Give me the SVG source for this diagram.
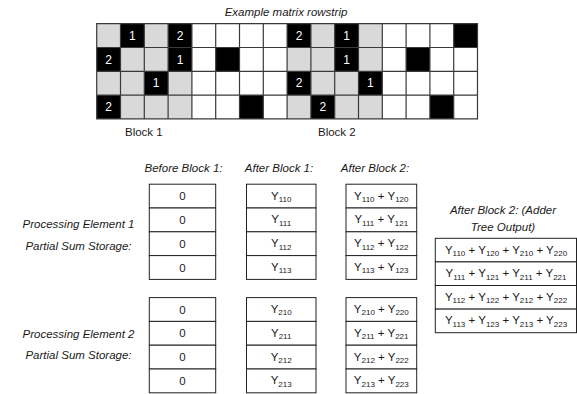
<svg xmlns="http://www.w3.org/2000/svg" width="577" height="394" viewBox="0 0 577 394">
<style>
text{font-family:"Liberation Sans",Arial,sans-serif;font-size:11.5px;fill:#1a1a1a}
.it{font-style:italic}
.num{fill:#fff;font-size:12px;text-anchor:middle}
.c{text-anchor:middle}
.sub{font-size:8px}
.g{fill:#d9d9d9}
.b{fill:#000}
.cell{fill:#fff;stroke:#222;stroke-width:1}
.grid{fill:none;stroke:#3a3a3a;stroke-width:1.2}
</style>
<rect width="577" height="394" fill="#fff"/>
<text class="it c" x="286" y="16" font-size="13">Example matrix rowstrip</text>

<g id="matrix" transform="translate(96.7,23.7)">
  <rect class="g" x="0" y="0" width="23.8" height="23.8"/>
  <rect class="g" x="47.6" y="0" width="23.8" height="23.8"/>
  <rect class="g" x="214.2" y="0" width="23.8" height="23.8"/>
  <rect class="g" x="261.8" y="0" width="23.8" height="23.8"/>
  <rect class="g" x="23.8" y="23.8" width="47.6" height="23.8"/>
  <rect class="g" x="190.4" y="23.8" width="47.6" height="23.8"/>
  <rect class="g" x="261.8" y="23.8" width="23.8" height="23.8"/>
  <rect class="g" x="0" y="47.6" width="47.6" height="23.8"/>
  <rect class="g" x="71.4" y="47.6" width="23.8" height="23.8"/>
  <rect class="g" x="214.2" y="47.6" width="47.6" height="23.8"/>
  <rect class="g" x="23.8" y="71.4" width="71.4" height="23.8"/>
  <rect class="g" x="190.4" y="71.4" width="23.8" height="23.8"/>
  <rect class="g" x="238" y="71.4" width="47.6" height="23.8"/>
  <rect class="b" x="23.8" y="0" width="23.8" height="23.8"/>
  <rect class="b" x="71.4" y="0" width="23.8" height="23.8"/>
  <rect class="b" x="190.4" y="0" width="23.8" height="23.8"/>
  <rect class="b" x="238" y="0" width="23.8" height="23.8"/>
  <rect class="b" x="357" y="0" width="23.8" height="23.8"/>
  <rect class="b" x="0" y="23.8" width="23.8" height="23.8"/>
  <rect class="b" x="71.4" y="23.8" width="23.8" height="23.8"/>
  <rect class="b" x="119" y="23.8" width="23.8" height="23.8"/>
  <rect class="b" x="238" y="23.8" width="23.8" height="23.8"/>
  <rect class="b" x="309.4" y="23.8" width="23.8" height="23.8"/>
  <rect class="b" x="47.6" y="47.6" width="23.8" height="23.8"/>
  <rect class="b" x="190.4" y="47.6" width="23.8" height="23.8"/>
  <rect class="b" x="261.8" y="47.6" width="23.8" height="23.8"/>
  <rect class="b" x="0" y="71.4" width="23.8" height="23.8"/>
  <rect class="b" x="142.8" y="71.4" width="23.8" height="23.8"/>
  <rect class="b" x="214.2" y="71.4" width="23.8" height="23.8"/>
  <rect class="b" x="333.2" y="71.4" width="23.8" height="23.8"/>
  <path class="grid" d="M0 0H380.8V95.2H0Z M0 23.8H380.8 M0 47.6H380.8 M0 71.4H380.8 M23.8 0V95.2 M47.6 0V95.2 M71.4 0V95.2 M95.2 0V95.2 M119 0V95.2 M142.8 0V95.2 M166.6 0V95.2 M190.4 0V95.2 M214.2 0V95.2 M238 0V95.2 M261.8 0V95.2 M285.6 0V95.2 M309.4 0V95.2 M333.2 0V95.2 M357 0V95.2"/>
  <text class="num" x="35.7" y="16.2">1</text>
  <text class="num" x="83.3" y="16.2">2</text>
  <text class="num" x="202.3" y="16.2">2</text>
  <text class="num" x="249.9" y="16.2">1</text>
  <text class="num" x="11.9" y="40">2</text>
  <text class="num" x="83.3" y="40">1</text>
  <text class="num" x="249.9" y="40">1</text>
  <text class="num" x="59.5" y="63.8">1</text>
  <text class="num" x="202.3" y="63.8">2</text>
  <text class="num" x="273.7" y="63.8">1</text>
  <text class="num" x="11.9" y="87.6">2</text>
  <text class="num" x="226.1" y="87.6">2</text>
</g>
<text x="125" y="136" font-size="12.5">Block 1</text>
<text x="318" y="136" font-size="12.5">Block 2</text>

<g id="headers">
  <text class="it c" x="183.5" y="171.5">Before Block 1:</text>
  <text class="it c" x="279" y="171.5">After Block 1:</text>
  <text class="it c" x="375" y="171.5">After Block 2:</text>
  <text class="it c" x="503" y="214">After Block 2: (Adder</text>
  <text class="it c" x="503" y="231">Tree Output)</text>
</g>

<g id="pe1-label">
  <text class="it c" x="78.5" y="228">Processing Element 1</text>
  <text class="it c" x="78.5" y="250">Partial Sum Storage:</text>
</g>
<g id="pe2-label">
  <text class="it c" x="78.5" y="337.5">Processing Element 2</text>
  <text class="it c" x="78.5" y="359">Partial Sum Storage:</text>
</g>

<g id="pe1-before">
  <rect class="cell" x="149.3" y="184.2" width="66.4" height="23.8"/>
  <rect class="cell" x="149.3" y="208" width="66.4" height="23.8"/>
  <rect class="cell" x="149.3" y="231.8" width="66.4" height="23.8"/>
  <rect class="cell" x="149.3" y="255.6" width="66.4" height="23.8"/>
  <text class="c" x="182.5" y="200.2">0</text>
  <text class="c" x="182.5" y="224">0</text>
  <text class="c" x="182.5" y="247.8">0</text>
  <text class="c" x="182.5" y="271.6">0</text>
</g>
<g id="pe1-after1">
  <rect class="cell" x="246.5" y="184.2" width="69.5" height="23.8"/>
  <rect class="cell" x="246.5" y="208" width="69.5" height="23.8"/>
  <rect class="cell" x="246.5" y="231.8" width="69.5" height="23.8"/>
  <rect class="cell" x="246.5" y="255.6" width="69.5" height="23.8"/>
  <text class="c" x="281.2" y="199.5">Y<tspan class="sub" dy="2.5">110</tspan></text>
  <text class="c" x="281.2" y="223.3">Y<tspan class="sub" dy="2.5">111</tspan></text>
  <text class="c" x="281.2" y="247.1">Y<tspan class="sub" dy="2.5">112</tspan></text>
  <text class="c" x="281.2" y="270.9">Y<tspan class="sub" dy="2.5">113</tspan></text>
</g>
<g id="pe1-after2">
  <rect class="cell" x="346" y="184.2" width="70.7" height="23.8"/>
  <rect class="cell" x="346" y="208" width="70.7" height="23.8"/>
  <rect class="cell" x="346" y="231.8" width="70.7" height="23.8"/>
  <rect class="cell" x="346" y="255.6" width="70.7" height="23.8"/>
  <text class="c" x="381.3" y="199.5">Y<tspan class="sub" dy="2.5">110</tspan><tspan dy="-2.5"> + Y</tspan><tspan class="sub" dy="2.5">120</tspan></text>
  <text class="c" x="381.3" y="223.3">Y<tspan class="sub" dy="2.5">111</tspan><tspan dy="-2.5"> + Y</tspan><tspan class="sub" dy="2.5">121</tspan></text>
  <text class="c" x="381.3" y="247.1">Y<tspan class="sub" dy="2.5">112</tspan><tspan dy="-2.5"> + Y</tspan><tspan class="sub" dy="2.5">122</tspan></text>
  <text class="c" x="381.3" y="270.9">Y<tspan class="sub" dy="2.5">113</tspan><tspan dy="-2.5"> + Y</tspan><tspan class="sub" dy="2.5">123</tspan></text>
</g>

<g id="pe2-before">
  <rect class="cell" x="149.3" y="297.6" width="66.4" height="23.8"/>
  <rect class="cell" x="149.3" y="321.4" width="66.4" height="23.8"/>
  <rect class="cell" x="149.3" y="345.2" width="66.4" height="23.8"/>
  <rect class="cell" x="149.3" y="369" width="66.4" height="23.8"/>
  <text class="c" x="182.5" y="313.6">0</text>
  <text class="c" x="182.5" y="337.4">0</text>
  <text class="c" x="182.5" y="361.2">0</text>
  <text class="c" x="182.5" y="385">0</text>
</g>
<g id="pe2-after1">
  <rect class="cell" x="246.5" y="297.6" width="69.5" height="23.8"/>
  <rect class="cell" x="246.5" y="321.4" width="69.5" height="23.8"/>
  <rect class="cell" x="246.5" y="345.2" width="69.5" height="23.8"/>
  <rect class="cell" x="246.5" y="369" width="69.5" height="23.8"/>
  <text class="c" x="281.2" y="312.9">Y<tspan class="sub" dy="2.5">210</tspan></text>
  <text class="c" x="281.2" y="336.7">Y<tspan class="sub" dy="2.5">211</tspan></text>
  <text class="c" x="281.2" y="360.5">Y<tspan class="sub" dy="2.5">212</tspan></text>
  <text class="c" x="281.2" y="384.3">Y<tspan class="sub" dy="2.5">213</tspan></text>
</g>
<g id="pe2-after2">
  <rect class="cell" x="346" y="297.6" width="70.7" height="23.8"/>
  <rect class="cell" x="346" y="321.4" width="70.7" height="23.8"/>
  <rect class="cell" x="346" y="345.2" width="70.7" height="23.8"/>
  <rect class="cell" x="346" y="369" width="70.7" height="23.8"/>
  <text class="c" x="381.3" y="312.9">Y<tspan class="sub" dy="2.5">210</tspan><tspan dy="-2.5"> + Y</tspan><tspan class="sub" dy="2.5">220</tspan></text>
  <text class="c" x="381.3" y="336.7">Y<tspan class="sub" dy="2.5">211</tspan><tspan dy="-2.5"> + Y</tspan><tspan class="sub" dy="2.5">221</tspan></text>
  <text class="c" x="381.3" y="360.5">Y<tspan class="sub" dy="2.5">212</tspan><tspan dy="-2.5"> + Y</tspan><tspan class="sub" dy="2.5">222</tspan></text>
  <text class="c" x="381.3" y="384.3">Y<tspan class="sub" dy="2.5">213</tspan><tspan dy="-2.5"> + Y</tspan><tspan class="sub" dy="2.5">223</tspan></text>
</g>

<g id="adder-output">
  <rect class="cell" x="435.3" y="238.3" width="141.2" height="23.6"/>
  <rect class="cell" x="435.3" y="261.9" width="141.2" height="23.6"/>
  <rect class="cell" x="435.3" y="285.5" width="141.2" height="23.6"/>
  <rect class="cell" x="435.3" y="309.1" width="141.2" height="23.6"/>
  <text class="c" x="506" y="253.5">Y<tspan class="sub" dy="2.5">110</tspan><tspan dy="-2.5"> + Y</tspan><tspan class="sub" dy="2.5">120</tspan><tspan dy="-2.5"> + Y</tspan><tspan class="sub" dy="2.5">210</tspan><tspan dy="-2.5"> + Y</tspan><tspan class="sub" dy="2.5">220</tspan></text>
  <text class="c" x="506" y="277.1">Y<tspan class="sub" dy="2.5">111</tspan><tspan dy="-2.5"> + Y</tspan><tspan class="sub" dy="2.5">121</tspan><tspan dy="-2.5"> + Y</tspan><tspan class="sub" dy="2.5">211</tspan><tspan dy="-2.5"> + Y</tspan><tspan class="sub" dy="2.5">221</tspan></text>
  <text class="c" x="506" y="300.7">Y<tspan class="sub" dy="2.5">112</tspan><tspan dy="-2.5"> + Y</tspan><tspan class="sub" dy="2.5">122</tspan><tspan dy="-2.5"> + Y</tspan><tspan class="sub" dy="2.5">212</tspan><tspan dy="-2.5"> + Y</tspan><tspan class="sub" dy="2.5">222</tspan></text>
  <text class="c" x="506" y="324.3">Y<tspan class="sub" dy="2.5">113</tspan><tspan dy="-2.5"> + Y</tspan><tspan class="sub" dy="2.5">123</tspan><tspan dy="-2.5"> + Y</tspan><tspan class="sub" dy="2.5">213</tspan><tspan dy="-2.5"> + Y</tspan><tspan class="sub" dy="2.5">223</tspan></text>
</g>
</svg>
